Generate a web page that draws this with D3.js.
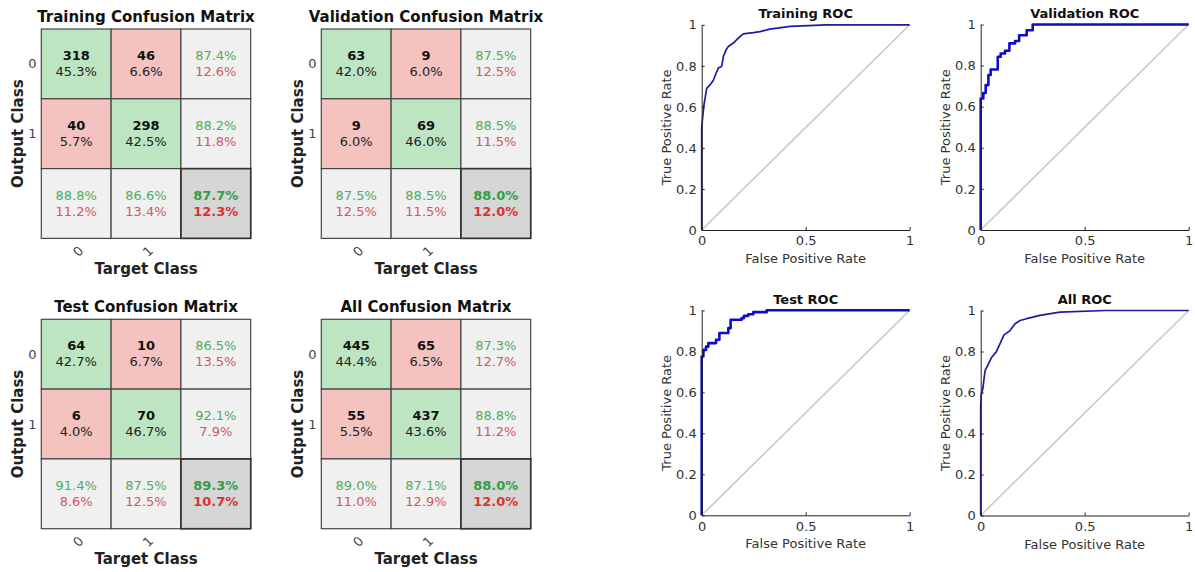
<!DOCTYPE html>
<html>
<head>
<meta charset="utf-8">
<script src="https://cdn.jsdelivr.net/npm/d3@7"></script>
<style>
  html, body { margin: 0; padding: 0; background: #fff; }
  svg { display: block; font-family: "DejaVu Sans", sans-serif; }
</style>
</head>
<body>
<svg id="chart" width="1195" height="572"></svg>
<script>
// ---------------- DATA ----------------
const classLabels = ["0", "1"];
const cmTitles = ["Training Confusion Matrix", "Validation Confusion Matrix", "Test Confusion Matrix", "All Confusion Matrix"];
// counts in row-major order: [row0col0, row0col1, row1col0, row1col1]
const cmCounts = [
  [318, 46, 40, 298],
  [63, 9, 9, 69],
  [64, 10, 6, 70],
  [445, 65, 55, 437]
];
const cmCellPct = [
  [45.3, 6.6, 5.7, 42.5],
  [42.0, 6.0, 6.0, 46.0],
  [42.7, 6.7, 4.0, 46.7],
  [44.4, 6.5, 5.5, 43.6]
];
const cmRowCorrect = [[87.4, 88.2], [87.5, 88.5], [86.5, 92.1], [87.3, 88.8]];
const cmColCorrect = [[88.8, 86.6], [87.5, 88.5], [91.4, 87.5], [89.0, 87.1]];
const cmTotalCorrect = [87.7, 88.0, 89.3, 88.0];

const rocTitles = ["Training ROC", "Validation ROC", "Test ROC", "All ROC"];
const trainFPR = [0, 0, 0.005, 0.011, 0.024, 0.04, 0.056, 0.069, 0.08, 0.096, 0.104, 0.117, 0.128, 0.152, 0.176, 0.2, 0.248, 0.28, 0.328, 0.425, 0.6, 1];
const trainTPR = [0, 0.5, 0.553, 0.61, 0.69, 0.707, 0.73, 0.764, 0.789, 0.797, 0.845, 0.878, 0.894, 0.911, 0.935, 0.956, 0.962, 0.967, 0.979, 0.992, 1, 1];
const valFPR = [0, 0, 0.0125, 0.024, 0.037, 0.048, 0.082, 0.096, 0.117, 0.138, 0.165, 0.185, 0.221, 0.25, 1];
const valTPR = [0, 0.640, 0.667, 0.705, 0.754, 0.781, 0.843, 0.859, 0.872, 0.908, 0.920, 0.948, 0.972, 1, 1];
const testFPR = [0, 0, 0.008, 0.021, 0.032, 0.069, 0.085, 0.128, 0.139, 0.192, 0.203, 0.224, 0.248, 0.3125, 1];
const testTPR = [0, 0.775, 0.807, 0.823, 0.84, 0.856, 0.889, 0.913, 0.954, 0.962, 0.973, 0.981, 0.991, 1, 1];
const allFPR = [0, 0, 0.002, 0.01, 0.021, 0.037, 0.053, 0.074, 0.093, 0.112, 0.141, 0.165, 0.189, 0.221, 0.285, 0.381, 0.6, 1];
const allTPR = [0, 0.52, 0.585, 0.618, 0.707, 0.74, 0.772, 0.797, 0.838, 0.881, 0.902, 0.935, 0.951, 0.96, 0.976, 0.992, 1, 1];
const rocYTicks = [0, 0.2, 0.4, 0.6, 0.8, 1];
const rocXTicks = [0, 0.5, 1];

// ---------------- LAYOUT ----------------
const svg = d3.select("#chart");
svg.append("rect").attr("width", 1195).attr("height", 572).attr("fill", "#fff");

const cmPanels = [
  { x: 41.3, y: 29.0 },
  { x: 321.3, y: 29.0 },
  { x: 41.3, y: 319.3 },
  { x: 321.3, y: 319.3 }
];
const cmSize = 209.4;

const col = {
  green: "#BDE5C2", pink: "#F5C3BF", gray: "#F0F0F0", dark: "#D6D6D6",
  border: "#454545", txtGreen: "#52AC5B", txtRed: "#CF5B5B",
  boldGreen: "#2F9E44", boldRed: "#D63434"
};

function fmt(v) { return v.toFixed(1) + "%"; }

cmPanels.forEach((p, k) => {
  const g = svg.append("g");
  const band = d3.scaleBand().domain([0, 1, 2]).range([0, cmSize]);
  const xs = d3.scaleBand().domain([0, 1, 2]).range([p.x, p.x + cmSize]);
  const ys = d3.scaleBand().domain([0, 1, 2]).range([p.y, p.y + cmSize]);
  const bw = band.bandwidth();

  const cells = [];
  for (let r = 0; r < 3; r++) for (let c = 0; c < 3; c++) cells.push({ r, c });

  g.selectAll("rect.cell").data(cells).enter().append("rect")
    .attr("x", d => xs(d.c)).attr("y", d => ys(d.r))
    .attr("width", bw).attr("height", bw)
    .attr("fill", d => {
      if (d.r < 2 && d.c < 2) return d.r === d.c ? col.green : col.pink;
      if (d.r === 2 && d.c === 2) return col.dark;
      return col.gray;
    })
    .attr("stroke", col.border).attr("stroke-width", 1.2);

  g.append("rect").attr("x", xs(2)).attr("y", ys(2)).attr("width", bw).attr("height", bw)
    .attr("fill", "none").attr("stroke", "#333").attr("stroke-width", 1.6);

  cells.filter(d => d.r < 2 && d.c < 2).forEach(d => {
    const i = d.r * 2 + d.c;
    const cx = xs(d.c) + bw / 2, cy = ys(d.r) + bw / 2;
    g.append("text").attr("x", cx).attr("y", cy - 8.5).attr("text-anchor", "middle")
      .attr("dominant-baseline", "central").attr("font-size", 13).attr("font-weight", "bold")
      .attr("fill", "#111").text(cmCounts[k][i]);
    g.append("text").attr("x", cx).attr("y", cy + 7.5).attr("text-anchor", "middle")
      .attr("dominant-baseline", "central").attr("font-size", 13)
      .attr("fill", "#222").text(fmt(cmCellPct[k][i]));
  });

  const pairs = [];
  for (let r = 0; r < 2; r++) pairs.push({ r, c: 2, v: cmRowCorrect[k][r], bold: false });
  for (let c = 0; c < 2; c++) pairs.push({ r: 2, c, v: cmColCorrect[k][c], bold: false });
  pairs.push({ r: 2, c: 2, v: cmTotalCorrect[k], bold: true });
  pairs.forEach(d => {
    const cx = xs(d.c) + bw / 2, cy = ys(d.r) + bw / 2;
    g.append("text").attr("x", cx).attr("y", cy - 8.5).attr("text-anchor", "middle")
      .attr("dominant-baseline", "central").attr("font-size", 13)
      .attr("font-weight", d.bold ? "bold" : "normal")
      .attr("fill", d.bold ? col.boldGreen : col.txtGreen).text(fmt(d.v));
    g.append("text").attr("x", cx).attr("y", cy + 7.5).attr("text-anchor", "middle")
      .attr("dominant-baseline", "central").attr("font-size", 13)
      .attr("font-weight", d.bold ? "bold" : "normal")
      .attr("fill", d.bold ? col.boldRed : col.txtRed).text(fmt(100 - d.v));
  });

  g.append("text").attr("x", p.x + cmSize / 2).attr("y", p.y - 12).attr("text-anchor", "middle")
    .attr("dominant-baseline", "central").attr("font-size", 15).attr("font-weight", "bold")
    .attr("fill", "#111").text(cmTitles[k]);

  classLabels.forEach((lab, r) => {
    g.append("text").attr("x", p.x - 9).attr("y", ys(r) + bw / 2).attr("text-anchor", "middle")
      .attr("dominant-baseline", "central").attr("font-size", 13).attr("fill", "#444").text(lab);
  });
  classLabels.forEach((lab, c) => {
    const tx = xs(c) + bw / 2 + 5, ty = p.y + cmSize + 10;
    g.append("text").attr("transform", `translate(${tx},${ty}) rotate(-45)`)
      .attr("text-anchor", "end").attr("dominant-baseline", "central")
      .attr("font-size", 13).attr("fill", "#444").text(lab);
  });

  g.append("text").attr("x", p.x + cmSize / 2).attr("y", p.y + cmSize + 30.5).attr("text-anchor", "middle")
    .attr("dominant-baseline", "central").attr("font-size", 15).attr("font-weight", "bold")
    .attr("fill", "#222").text("Target Class");
  g.append("text").attr("transform", `translate(${p.x - 23},${p.y + cmSize / 2}) rotate(-90)`)
    .attr("text-anchor", "middle").attr("dominant-baseline", "central")
    .attr("font-size", 15).attr("font-weight", "bold").attr("fill", "#222").text("Output Class");
});

// ---------------- ROC ----------------
const rocPanels = [
  { x0: 701.7, x1: 909.7, y0: 230.0, y1: 24.8, fpr: trainFPR, tpr: trainTPR, step: false, color: "#1C1CA0", w: 1.7 },
  { x0: 980.7, x1: 1188.7, y0: 230.0, y1: 24.5, fpr: valFPR, tpr: valTPR, step: true, color: "#0D0DC8", w: 2.6 },
  { x0: 701.7, x1: 909.7, y0: 515.3, y1: 310.3, fpr: testFPR, tpr: testTPR, step: true, color: "#0D0DC8", w: 2.6 },
  { x0: 980.7, x1: 1188.7, y0: 515.5, y1: 310.5, fpr: allFPR, tpr: allTPR, step: false, color: "#1C1CA0", w: 1.7 }
];
const rocFont = 13;

rocPanels.forEach((p, k) => {
  const g = svg.append("g");
  const x = d3.scaleLinear().domain([0, 1]).range([p.x0, p.x1]);
  const y = d3.scaleLinear().domain([0, 1]).range([p.y0, p.y1]);

  g.append("line").attr("x1", x(0)).attr("y1", y(0)).attr("x2", x(1)).attr("y2", y(1))
    .attr("stroke", "#C8C8C8").attr("stroke-width", 1.6);

  const pts = p.fpr.map((f, i) => [f, p.tpr[i]]);
  const line = d3.line().x(d => x(d[0])).y(d => y(d[1]))
    .curve(p.step ? d3.curveStepAfter : d3.curveLinear);
  g.append("path").attr("d", line(pts)).attr("fill", "none")
    .attr("stroke", p.color).attr("stroke-width", p.w).attr("stroke-linejoin", "round");

  const xAxis = d3.axisBottom(x).tickValues(rocXTicks).tickFormat(d => String(d))
    .tickSizeInner(-3).tickSizeOuter(0).tickPadding(6);
  const yAxis = d3.axisLeft(y).tickValues(rocYTicks).tickFormat(d => String(+d.toFixed(1)))
    .tickSizeInner(-3).tickSizeOuter(0).tickPadding(5);
  const gx = g.append("g").attr("transform", `translate(0,${p.y0})`).call(xAxis);
  const gy = g.append("g").attr("transform", `translate(${p.x0},0)`).call(yAxis);
  [gx, gy].forEach(a => {
    a.select(".domain").attr("stroke", "#222").attr("stroke-width", 1);
    a.selectAll(".tick line").attr("stroke", "#222");
    a.selectAll(".tick text").attr("font-size", rocFont).attr("fill", "#333")
      .attr("font-family", "DejaVu Sans, sans-serif");
  });

  const cx = (p.x0 + p.x1) / 2, cy = (p.y0 + p.y1) / 2;
  g.append("text").attr("x", cx).attr("y", p.y1 - 11).attr("text-anchor", "middle")
    .attr("dominant-baseline", "central").attr("font-size", rocFont).attr("font-weight", "bold")
    .attr("fill", "#111").text(rocTitles[k]);
  g.append("text").attr("x", cx).attr("y", p.y0 + 28.5).attr("text-anchor", "middle")
    .attr("dominant-baseline", "central").attr("font-size", rocFont)
    .attr("fill", "#333").text("False Positive Rate");
  g.append("text").attr("transform", `translate(${p.x0 - 35},${cy}) rotate(-90)`)
    .attr("text-anchor", "middle").attr("dominant-baseline", "central")
    .attr("font-size", rocFont).attr("fill", "#333").text("True Positive Rate");
});
</script>
</body>
</html>
